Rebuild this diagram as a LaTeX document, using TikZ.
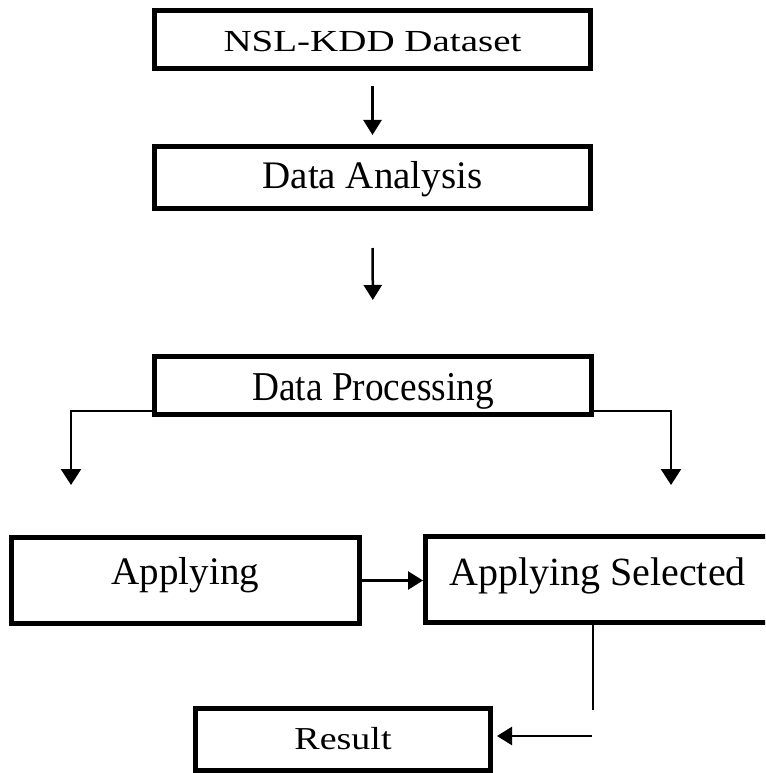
\documentclass[tikz,border=0pt]{standalone}
\usepackage{fontspec}
\usepackage{graphicx}
\setmainfont{Liberation Serif}
\usetikzlibrary{arrows.meta,calc}
\begin{document}
\begin{tikzpicture}[x=1pt,y=-1pt,
  box/.style={draw,line width=5pt,rectangle,inner sep=0pt,outer sep=0pt,
    text depth=0pt,font=\fontsize{39}{40}\selectfont},
  conn/.style={line width=2.5pt,-{Triangle[width=18pt,length=15pt]}},
  plain/.style={line width=2.5pt}]
\useasboundingbox (0,0) rectangle (765,773);
\clip (0,0) rectangle (765,773);

% process boxes
\node[box,minimum width=436pt,minimum height=58pt,text height=25pt] (ds) at (372.5,39.5)
  {\scalebox{1}[0.785]{NSL-KDD Dataset}};
\node[box,minimum width=436pt,minimum height=62pt,text height=21.6pt] (da) at (372.5,177.5)
  {Data Analysis};
\node[box,minimum width=437pt,minimum height=58pt,text height=29pt,
  font=\fontsize{41}{42}\selectfont] (dp) at (373,385.5)
  {\scalebox{0.91}[1]{Data Processing}};
\node[box,line width=5.5pt,minimum width=348pt,minimum height=86pt,text height=7pt] (ap) at (185.5,580.5)
  {Applying};
\node[box,line width=5.5pt,minimum width=344pt,minimum height=86pt,text height=11pt,
  font=\fontsize{40}{41}\selectfont] (as) at (597.5,579.5)
  {Applying Selected};
\node[box,minimum width=295pt,minimum height=62pt,text height=19.6pt,
  font=\fontsize{38}{39}\selectfont] (rs) at (343,739.5)
  {\scalebox{1}[0.84]{Result}};

% free ends of the connectors
\coordinate (lt) at (71,485);
\coordinate (rt) at (671,485);
\coordinate (dn) at (593,710);
\coordinate (bk) at (592,736);

% connectors
\draw[conn,shorten <=17.5pt,shorten >=11.5pt] (ds.south) -- (da.north);
\draw[conn,shorten <=39.5pt,shorten >=56.5pt] (da.south) -- (dp.north);
\draw[conn,-{Triangle[width=20pt,length=16pt]}] ($(dp.south west)+(0,-3.5)$) -| (lt);
\draw[conn,-{Triangle[width=20pt,length=16pt]}] ($(dp.south east)+(0,-3.5)$) -| (rt);
\draw[conn,shorten >=2.5pt] (ap.east) -- (ap.east -| as.west);
\draw[plain] (dn |- as.south) -- (dn);
\draw[conn,shorten >=6.5pt] (bk) -- (bk -| rs.east);
\end{tikzpicture}
\end{document}
